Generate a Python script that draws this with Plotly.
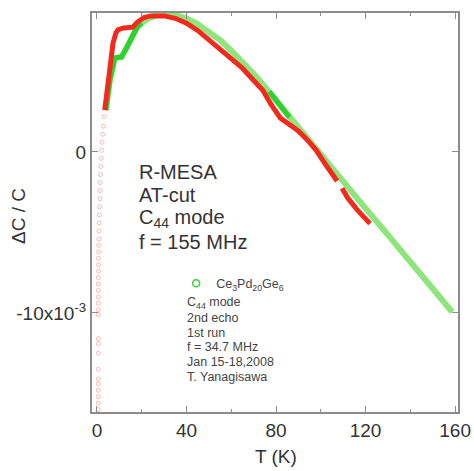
import plotly.graph_objects as go

# ---- data (dC/C in units of 1e-3) ----
T_red = [3.5, 4.5, 5.8, 7.2, 8.5, 9.5, 12, 14, 16, 18, 21, 24, 27, 30, 35, 40, 45, 50, 55,
         60, 65, 70, 74, 78, 82, 86, 90, 94, 98, 102, 106, 107.3, None,
         109.5, 112, 116, 120, 122]
dc_red = [2.6, 3.85, 5.28, 6.77, 7.4, 7.6, 7.7, 7.7, 7.75, 8.05, 8.35, 8.45, 8.47, 8.45, 8.3,
          8.0, 7.55, 7.0, 6.4, 5.8, 5.2, 4.5, 3.85, 2.9, 2.1, 1.7, 1.3, 0.75, 0.1, -0.75, -1.6,
          -1.8, None, -2.25, -2.85, -3.55, -4.2, -4.45]

T_red_low = [3.2, 2.9, 2.6, 2.3, 2.1, 1.9, 1.8, 1.6, 1.5, 1.4, 1.3, 1.2, 1.1, 1.0, 0.9, 0.9,
             0.8, 0.8, 0.7, 0.7, 0.7, 0.6, 0.6, 0.6, 0.6, 0.6, 0.6, 0.6, 0.6, 0.6, 0.6, 0.6,
             0.6, 0.6, 0.6, 0.6, 0.6, 0.6]
dc_red_low = [2.2, 1.6, 1.1, 0.6, 0.1, -0.4, -0.9, -1.4, -1.9, -2.4, -2.9, -3.4, -3.9, -4.4,
              -4.9, -5.4, -5.8, -6.2, -6.6, -7.0, -7.4, -7.8, -8.2, -8.6, -9.0, -9.4, -9.8,
              -10.1, -11.6, -11.9, -12.5, -13.5, -14.1, -14.4, -14.8, -15.2, -15.6, -16.0]

T_green = [4.0, 4.5, 5.8, 8, 11, 13, 15, 18, 20, 23, 27, 30, 35, 40, 45, 50, 55, 60, 65, 70,
           75, 80, 85, 90, 95, 100, 110, 120, 130, 140, 150, 158.7]
dc_green = [2.6, 3.2, 4.47, 5.84, 5.9, 6.4, 7.0, 7.76, 8.0, 8.3, 8.5, 8.55, 8.5, 8.3, 7.95,
            7.45, 6.95, 6.3, 5.6, 4.85, 4.05, 3.2, 2.3, 1.45, 0.65, -0.2, -1.85, -3.5, -5.15,
            -6.8, -8.45, -9.94]

T_green_dark = [4.0, 4.5, 5.8, 8, 11, 13, 15, 18, 20, None, 77, 80, 83, 86]
dc_green_dark = [2.6, 3.2, 4.47, 5.84, 5.9, 6.4, 7.0, 7.76, 8.0, None, 3.75, 3.2, 2.65, 2.15]

x_ticks = [0, 40, 80, 120, 160]
y_ticks = [0, -10]
y_ticklabels = ["0", "-10x10<sup>-3</sup>"]

big_lines = ["R-MESA", "AT-cut", "C<sub>44</sub> mode", "f = 155 MHz"]
small_lines = ["C<sub>44</sub> mode", "2nd echo", "1st run", "f = 34.7 MHz",
               "Jan 15-18,2008", "T. Yanagisawa"]

FONT = "Liberation Sans, Arial, sans-serif"
AX = "#8c8c8c"

fig = go.Figure()
fig.add_trace(go.Scatter(x=T_red_low, y=dc_red_low, mode="markers", showlegend=False,
                         marker=dict(symbol="circle-open", size=4, color="rgba(255,60,60,0.35)")))
fig.add_trace(go.Scatter(x=T_green, y=dc_green, mode="lines", showlegend=False,
                         line=dict(color="#8ee57c", width=6)))
fig.add_trace(go.Scatter(x=T_green_dark, y=dc_green_dark, mode="lines", showlegend=False,
                         line=dict(color="#2fd12f", width=5)))
fig.add_trace(go.Scatter(x=T_red, y=dc_red, mode="lines", showlegend=False,
                         line=dict(color="#f22a1e", width=5)))
# legend entry
fig.add_trace(go.Scatter(x=[None], y=[None], mode="markers",
                         name="Ce<sub>3</sub>Pd<sub>20</sub>Ge<sub>6</sub>",
                         marker=dict(symbol="circle-open", size=7, color="#3cd03c",
                                     line=dict(width=1.5))))

# text blocks, one annotation per line (px positions -> paper coords)
ann = []
for i, t in enumerate(big_lines):
    ann.append(dict(text=t, xref="paper", yref="paper", x=(137 - 92) / 366,
                    y=1 - (172 + 23.3 * i - 13) / 399, xanchor="left", yanchor="middle",
                    showarrow=False, font=dict(size=20, color="#333333")))
for i, t in enumerate(small_lines):
    ann.append(dict(text=t, xref="paper", yref="paper", x=(185 - 92) / 366,
                    y=1 - (303 + 14.8 * i - 13) / 399, xanchor="left", yanchor="middle",
                    showarrow=False, font=dict(size=12.5, color="#444444")))
ann.append(dict(text="T (K)", xref="paper", yref="paper", x=(276 - 92) / 366,
                y=1 - (456 - 13) / 399, xanchor="center", yanchor="middle",
                showarrow=False, font=dict(size=19)))
ann.append(dict(text="ΔC / C", xref="paper", yref="paper", x=(18 - 92) / 366,
                y=1 - (216 - 13) / 399, xanchor="center", yanchor="middle",
                textangle=-90, showarrow=False, font=dict(size=19)))

fig.update_layout(
    width=474, height=471,
    margin=dict(l=92, r=16, t=13, b=59, autoexpand=False),
    plot_bgcolor="white", paper_bgcolor="white",
    font=dict(family=FONT, color="#333333", size=19),
    showlegend=True,
    legend=dict(x=0.23, y=0.322, xanchor="left", yanchor="middle",
                bgcolor="rgba(0,0,0,0)", font=dict(size=12.5, color="#444444"),
                itemwidth=30, tracegroupgap=0),
    annotations=ann,
)
fig.update_xaxes(range=[-2.2, 161.3], tickvals=x_ticks, ticks="inside", ticklen=6,
                 tickcolor=AX, linecolor=AX, linewidth=2, mirror="ticks", showgrid=False,
                 zeroline=False, automargin=False,
                 minor=dict(dtick=20, tick0=0, ticks="inside", ticklen=3, tickcolor=AX))
fig.update_yaxes(range=[-16.15, 8.63], tickvals=y_ticks, ticktext=y_ticklabels,
                 ticks="inside", ticklen=6, tickcolor=AX, linecolor=AX, linewidth=2,
                 mirror="ticks", showgrid=False, zeroline=False, automargin=False)

fig.write_html("out.html", config={"displayModeBar": False},
               post_script="document.body.style.margin='0';")
